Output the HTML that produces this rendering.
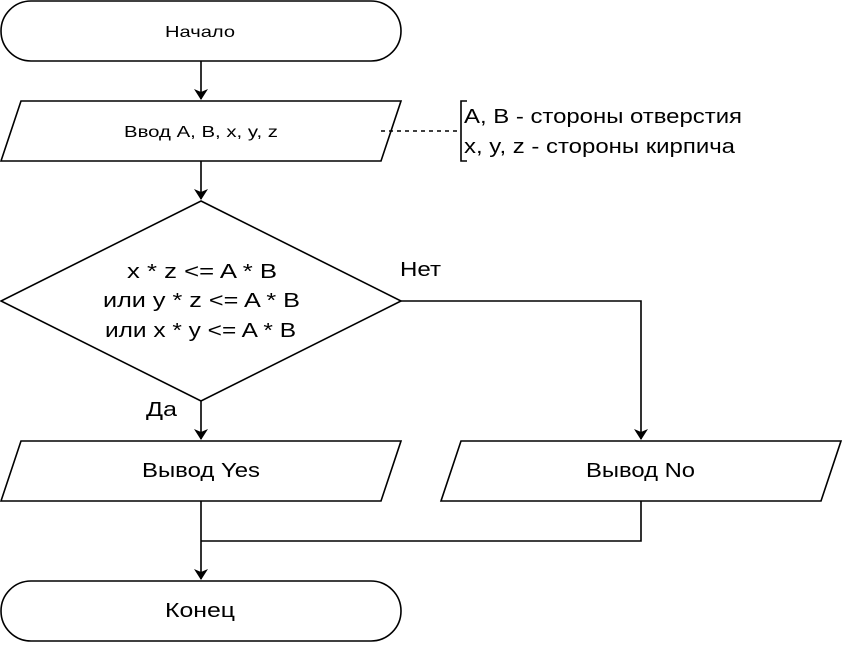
<!DOCTYPE html>
<html><head><meta charset="utf-8"><style>body{margin:0;background:#fff}</style></head><body>
<svg width="844" height="642" xmlns="http://www.w3.org/2000/svg" font-family="'Liberation Sans', 'DejaVu Sans', sans-serif">
<defs><marker id="a" markerWidth="12" markerHeight="14" refX="10" refY="7" orient="auto" markerUnits="userSpaceOnUse"><path d="M0,0 L11,7 L0,14 L3,7 Z" fill="#000"/></marker></defs>
<g fill="#fff" stroke="#000" stroke-width="1.6">
<rect x="1" y="1" width="400" height="60" rx="30"/>
<polygon points="21,101 401,101 381,161 1,161"/>
<polygon points="201,201 401,301 201,401 1,301"/>
<polygon points="21,441 401,441 381,501 1,501"/>
<polygon points="461,441 841,441 821,501 441,501"/>
<rect x="1" y="581" width="400" height="60" rx="30"/>
</g>
<g fill="none" stroke="#000" stroke-width="1.6">
<line x1="201" y1="61" x2="201" y2="99" marker-end="url(#a)"/>
<line x1="201" y1="161" x2="201" y2="199" marker-end="url(#a)"/>
<line x1="201" y1="401" x2="201" y2="439" marker-end="url(#a)"/>
<polyline points="401,301 641,301 641,439" marker-end="url(#a)"/>
<line x1="201" y1="501" x2="201" y2="579" marker-end="url(#a)"/>
<polyline points="641,501 641,541 201,541"/>
<line x1="381" y1="131" x2="461" y2="131" stroke-dasharray="4,4"/>
<polyline points="467,101 461,101 461,161 467,161"/>
</g>
<g font-size="16" fill="#000">
<text x="165" y="37" textLength="70" lengthAdjust="spacingAndGlyphs">Начало</text>
<text x="124" y="137" font-size="16" textLength="154" lengthAdjust="spacingAndGlyphs">Ввод A, B, x, y, z</text>
<text x="127" y="278" font-size="20" textLength="150" lengthAdjust="spacingAndGlyphs">x * z &lt;= A * B</text>
<text x="103" y="307" font-size="20" textLength="197" lengthAdjust="spacingAndGlyphs">или y * z &lt;= A * B</text>
<text x="105" y="337" font-size="20" textLength="191" lengthAdjust="spacingAndGlyphs">или x * y &lt;= A * B</text>
<text x="142" y="477" font-size="20" textLength="118" lengthAdjust="spacingAndGlyphs">Вывод Yes</text>
<text x="586" y="477" font-size="20" textLength="109" lengthAdjust="spacingAndGlyphs">Вывод No</text>
<text x="165" y="617" font-size="20" textLength="70" lengthAdjust="spacingAndGlyphs">Конец</text>
<text x="464" y="123" font-size="20" textLength="278" lengthAdjust="spacingAndGlyphs">A, B - стороны отверстия</text>
<text x="464" y="153" font-size="20" textLength="271" lengthAdjust="spacingAndGlyphs">x, y, z - стороны кирпича</text>
<text x="400" y="276" font-size="20" textLength="41" lengthAdjust="spacingAndGlyphs">Нет</text>
<text x="146" y="416" font-size="20" textLength="31" lengthAdjust="spacingAndGlyphs">Да</text>
</g>
</svg>
</body></html>
